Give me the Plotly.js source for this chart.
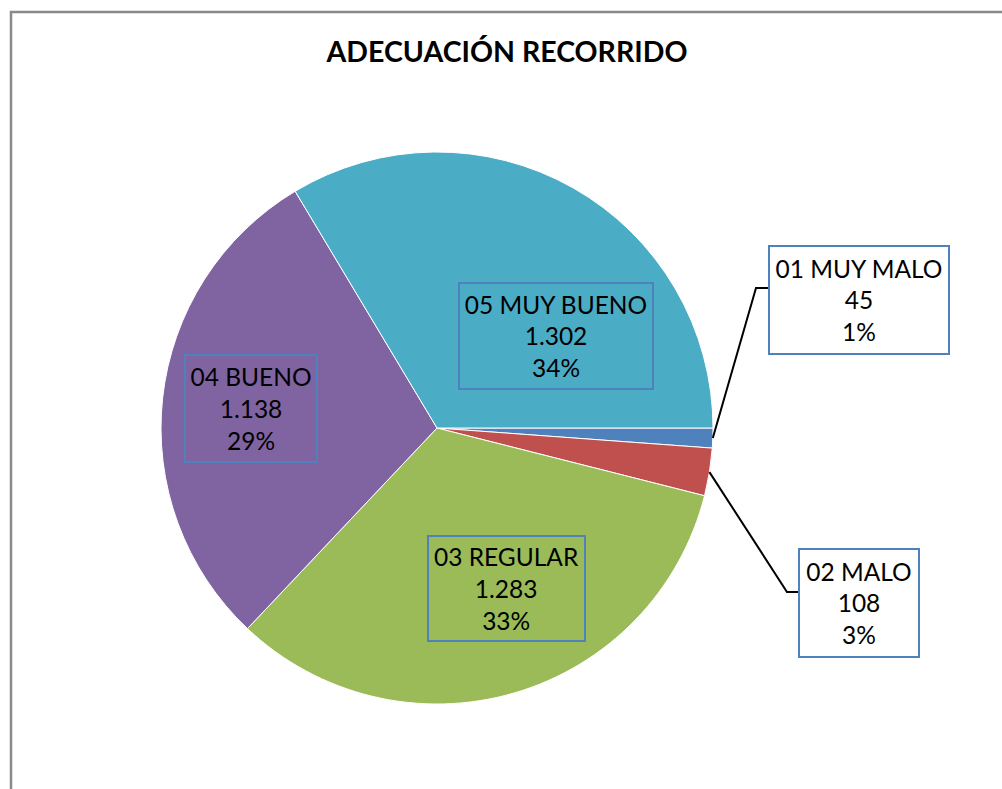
<!DOCTYPE html>
<html><head><meta charset="utf-8">
<script src="https://cdn.plot.ly/plotly-3.0.1.min.js"></script>
<style>html,body{margin:0;padding:0;background:#fff}#chart{width:1002px;height:789px}</style>
</head><body><div id="chart"></div>
<script>
const chartTitle = 'ADECUACIÓN RECORRIDO';
const categories = ['01 MUY MALO', '02 MALO', '03 REGULAR', '04 BUENO', '05 MUY BUENO'];
const values = [45, 108, 1283, 1138, 1302];
const colors = ['#4F81BD', '#C0504D', '#9BBB59', '#8064A2', '#4BACC6'];

const W = 1002, H = 789;
const px = x => x / W, py = y => 1 - y / H;
const cx = 437, cy = 428, R = 276;

// label box placement (pixels) - layout only
const boxes = [
  {x: 859, y: 300, w: 182, h: 110, outside: true, elbow: [756, 288], end: [768, 288]},
  {x: 859, y: 603, w: 122, h: 110, outside: true, elbow: [787, 592], end: [798, 592]},
  {x: 506, y: 588, w: 159, h: 107},
  {x: 251, y: 408, w: 134, h: 109},
  {x: 556, y: 336, w: 196, h: 108}
];

const total = values.reduce((a, b) => a + b, 0);
const fmt = v => String(v).replace(/\B(?=(\d{3})+(?!\d))/g, '.');
const pct = v => Math.round(v / total * 100) + '%';

const FONT = 'Lato, "Open Sans", sans-serif';
const annotations = [];
const shapes = [];
let cum = 0;
values.forEach((v, i) => {
  const theta = (cum + v / 2) / total * 2 * Math.PI;
  cum += v;
  const b = boxes[i];
  const bw = 2;
  annotations.push({
    xref: 'paper', yref: 'paper', x: px(b.x), y: py(b.y),
    xanchor: 'center', yanchor: 'middle', showarrow: false,
    text: categories[i] + '<br>' + fmt(v) + '<br>' + pct(v),
    font: {family: FONT, size: 24.5, color: '#000'},
    align: 'center', valign: 'middle',
    width: b.w - 2 * bw, height: b.h - 2 * bw, borderpad: 0,
    bordercolor: '#4F81BD', borderwidth: bw,
    bgcolor: b.outside ? '#ffffff' : 'rgba(0,0,0,0)'
  });
  if (b.outside) {
    const sx = cx + R * Math.cos(theta), sy = cy + R * Math.sin(theta);
    shapes.push({
      type: 'path', xref: 'paper', yref: 'paper',
      path: `M ${px(sx)} ${py(sy)} L ${px(b.elbow[0])} ${py(b.elbow[1])} L ${px(b.end[0])} ${py(b.end[1])}`,
      line: {color: '#000', width: 2}
    });
  }
});
// outer chart frame
shapes.push({type: 'rect', xref: 'paper', yref: 'paper',
  x0: px(11), x1: px(1040), y0: py(830), y1: py(12),
  line: {color: '#898989', width: 2.5}});

const data = [{
  type: 'pie', labels: categories, values: values, sort: false,
  direction: 'clockwise', rotation: 90,
  marker: {colors: colors, line: {color: '#ffffff', width: 1}},
  textinfo: 'none', hoverinfo: 'label+value+percent',
  domain: {x: [px(cx - R), px(cx + R)], y: [py(cy + R), py(cy - R)]}
}];

const layout = {
  width: W, height: H, margin: {l: 0, r: 0, t: 0, b: 0},
  paper_bgcolor: '#ffffff', showlegend: false,
  title: {text: '<b>' + chartTitle + '</b>', x: px(507), xanchor: 'center',
    y: py(52), yanchor: 'middle', font: {family: FONT, size: 28.5, color: '#000'}},
  annotations: annotations, shapes: shapes
};
Plotly.newPlot('chart', data, layout, {displayModeBar: false, staticPlot: true});
</script></body></html>
